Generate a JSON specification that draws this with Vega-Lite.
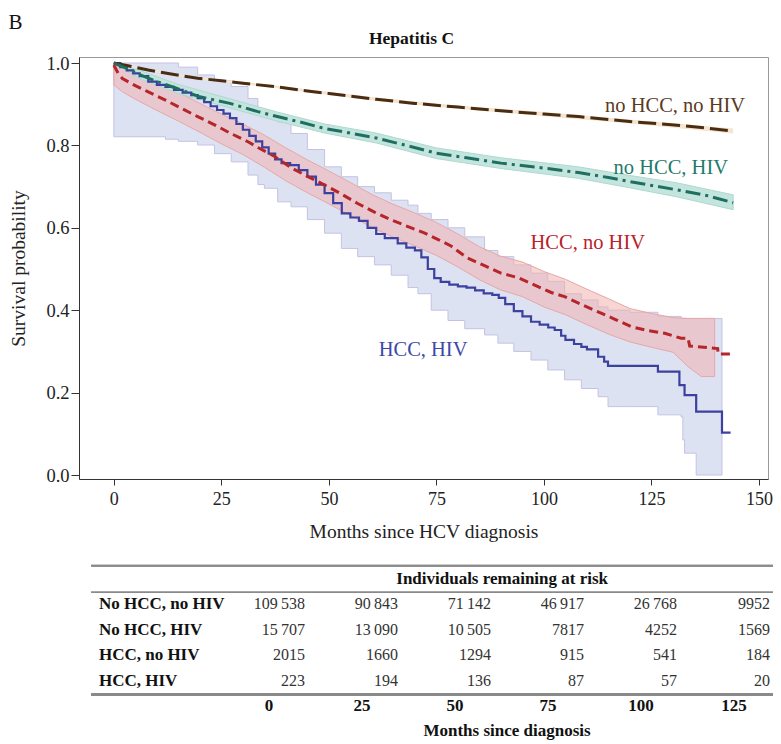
{
  "$schema": "https://vega.github.io/schema/vega-lite/v6.json",
  "padding": {"left": 8, "top": 12, "right": 5, "bottom": 0},
  "config": {
    "font": "Liberation Serif",
    "view": {"stroke": "#9a9a9a", "strokeWidth": 1},
    "title": {"color": "#111", "font": "Liberation Serif"}
  },
  "bounds": "flush",
  "spacing": 81,
  "title": {"text": "B", "anchor": "start", "frame": "bounds", "fontSize": 21, "fontWeight": "normal", "offset": 0, "dy": 4},
  "datasets": {
    "km": [
      {"g": "no HCC, no HIV", "m": 0, "s": 1.0}, {"g": "no HCC, no HIV", "m": 3, "s": 0.994}, {"g": "no HCC, no HIV", "m": 8, "s": 0.983}, {"g": "no HCC, no HIV", "m": 14, "s": 0.972}, {"g": "no HCC, no HIV", "m": 19.5, "s": 0.963}, {"g": "no HCC, no HIV", "m": 25, "s": 0.957}, {"g": "no HCC, no HIV", "m": 30, "s": 0.951}, {"g": "no HCC, no HIV", "m": 38, "s": 0.942}, {"g": "no HCC, no HIV", "m": 45, "s": 0.932}, {"g": "no HCC, no HIV", "m": 50, "s": 0.926}, {"g": "no HCC, no HIV", "m": 61, "s": 0.912}, {"g": "no HCC, no HIV", "m": 70, "s": 0.902}, {"g": "no HCC, no HIV", "m": 80, "s": 0.893}, {"g": "no HCC, no HIV", "m": 90, "s": 0.884}, {"g": "no HCC, no HIV", "m": 100, "s": 0.876}, {"g": "no HCC, no HIV", "m": 108, "s": 0.87}, {"g": "no HCC, no HIV", "m": 120, "s": 0.858}, {"g": "no HCC, no HIV", "m": 131, "s": 0.849}, {"g": "no HCC, no HIV", "m": 138, "s": 0.842}, {"g": "no HCC, no HIV", "m": 144, "s": 0.835},
      {"g": "no HCC, HIV", "m": 0, "s": 1.0}, {"g": "no HCC, HIV", "m": 3, "s": 0.987}, {"g": "no HCC, HIV", "m": 6, "s": 0.972}, {"g": "no HCC, HIV", "m": 10, "s": 0.955}, {"g": "no HCC, HIV", "m": 15, "s": 0.937}, {"g": "no HCC, HIV", "m": 20, "s": 0.918}, {"g": "no HCC, HIV", "m": 27, "s": 0.902}, {"g": "no HCC, HIV", "m": 33.5, "s": 0.882}, {"g": "no HCC, HIV", "m": 38, "s": 0.87}, {"g": "no HCC, HIV", "m": 44, "s": 0.855}, {"g": "no HCC, HIV", "m": 49, "s": 0.841}, {"g": "no HCC, HIV", "m": 55, "s": 0.83}, {"g": "no HCC, HIV", "m": 61, "s": 0.818}, {"g": "no HCC, HIV", "m": 68, "s": 0.8}, {"g": "no HCC, HIV", "m": 75, "s": 0.781}, {"g": "no HCC, HIV", "m": 82, "s": 0.77}, {"g": "no HCC, HIV", "m": 90, "s": 0.757}, {"g": "no HCC, HIV", "m": 100, "s": 0.745}, {"g": "no HCC, HIV", "m": 108, "s": 0.734}, {"g": "no HCC, HIV", "m": 115, "s": 0.722}, {"g": "no HCC, HIV", "m": 120, "s": 0.712}, {"g": "no HCC, HIV", "m": 131, "s": 0.692}, {"g": "no HCC, HIV", "m": 138, "s": 0.678}, {"g": "no HCC, HIV", "m": 144, "s": 0.661},
      {"g": "HCC, no HIV", "m": 0, "s": 0.995}, {"g": "HCC, no HIV", "m": 1, "s": 0.975}, {"g": "HCC, no HIV", "m": 2, "s": 0.962}, {"g": "HCC, no HIV", "m": 5, "s": 0.945}, {"g": "HCC, no HIV", "m": 8, "s": 0.93}, {"g": "HCC, no HIV", "m": 12, "s": 0.91}, {"g": "HCC, no HIV", "m": 15.7, "s": 0.89}, {"g": "HCC, no HIV", "m": 19.5, "s": 0.87}, {"g": "HCC, no HIV", "m": 23.4, "s": 0.85}, {"g": "HCC, no HIV", "m": 27, "s": 0.83}, {"g": "HCC, no HIV", "m": 31.2, "s": 0.809}, {"g": "HCC, no HIV", "m": 33.5, "s": 0.795}, {"g": "HCC, no HIV", "m": 37.4, "s": 0.773}, {"g": "HCC, no HIV", "m": 41.2, "s": 0.746}, {"g": "HCC, no HIV", "m": 45, "s": 0.725}, {"g": "HCC, no HIV", "m": 49, "s": 0.704}, {"g": "HCC, no HIV", "m": 52.9, "s": 0.682}, {"g": "HCC, no HIV", "m": 56.7, "s": 0.659}, {"g": "HCC, no HIV", "m": 60.6, "s": 0.638}, {"g": "HCC, no HIV", "m": 64.5, "s": 0.619}, {"g": "HCC, no HIV", "m": 68.4, "s": 0.603}, {"g": "HCC, no HIV", "m": 72.3, "s": 0.587}, {"g": "HCC, no HIV", "m": 75.3, "s": 0.572}, {"g": "HCC, no HIV", "m": 78.4, "s": 0.556}, {"g": "HCC, no HIV", "m": 82, "s": 0.528}, {"g": "HCC, no HIV", "m": 86.2, "s": 0.508}, {"g": "HCC, no HIV", "m": 90, "s": 0.49}, {"g": "HCC, no HIV", "m": 94, "s": 0.479}, {"g": "HCC, no HIV", "m": 97, "s": 0.465}, {"g": "HCC, no HIV", "m": 101.7, "s": 0.443}, {"g": "HCC, no HIV", "m": 104.8, "s": 0.433}, {"g": "HCC, no HIV", "m": 108.7, "s": 0.414}, {"g": "HCC, no HIV", "m": 112.6, "s": 0.396}, {"g": "HCC, no HIV", "m": 116.5, "s": 0.378}, {"g": "HCC, no HIV", "m": 120.3, "s": 0.36}, {"g": "HCC, no HIV", "m": 124, "s": 0.351}, {"g": "HCC, no HIV", "m": 128.1, "s": 0.344}, {"g": "HCC, no HIV", "m": 131.9, "s": 0.332}, {"g": "HCC, no HIV", "m": 133.5, "s": 0.332}, {"g": "HCC, no HIV", "m": 133.9, "s": 0.313}, {"g": "HCC, no HIV", "m": 140.4, "s": 0.307}, {"g": "HCC, no HIV", "m": 140.5, "s": 0.294}, {"g": "HCC, no HIV", "m": 143.6, "s": 0.294}
    ],
    "kmstep": [
      {"g": "HCC, HIV", "m": 0, "s": 1.0}, {"g": "HCC, HIV", "m": 1.5, "s": 0.99}, {"g": "HCC, HIV", "m": 3, "s": 0.982}, {"g": "HCC, HIV", "m": 4.5, "s": 0.975}, {"g": "HCC, HIV", "m": 6, "s": 0.968}, {"g": "HCC, HIV", "m": 8, "s": 0.955}, {"g": "HCC, HIV", "m": 10, "s": 0.947}, {"g": "HCC, HIV", "m": 12, "s": 0.942}, {"g": "HCC, HIV", "m": 14, "s": 0.935}, {"g": "HCC, HIV", "m": 16, "s": 0.928}, {"g": "HCC, HIV", "m": 18, "s": 0.922}, {"g": "HCC, HIV", "m": 19.5, "s": 0.915}, {"g": "HCC, HIV", "m": 21, "s": 0.905}, {"g": "HCC, HIV", "m": 22.5, "s": 0.895}, {"g": "HCC, HIV", "m": 24, "s": 0.886}, {"g": "HCC, HIV", "m": 25.5, "s": 0.877}, {"g": "HCC, HIV", "m": 27, "s": 0.866}, {"g": "HCC, HIV", "m": 28.5, "s": 0.852}, {"g": "HCC, HIV", "m": 30, "s": 0.838}, {"g": "HCC, HIV", "m": 31.5, "s": 0.823}, {"g": "HCC, HIV", "m": 33, "s": 0.81}, {"g": "HCC, HIV", "m": 34.5, "s": 0.795}, {"g": "HCC, HIV", "m": 36, "s": 0.78}, {"g": "HCC, HIV", "m": 37.5, "s": 0.766}, {"g": "HCC, HIV", "m": 39, "s": 0.757}, {"g": "HCC, HIV", "m": 41, "s": 0.752}, {"g": "HCC, HIV", "m": 43, "s": 0.74}, {"g": "HCC, HIV", "m": 45, "s": 0.724}, {"g": "HCC, HIV", "m": 47, "s": 0.705}, {"g": "HCC, HIV", "m": 49, "s": 0.684}, {"g": "HCC, HIV", "m": 51, "s": 0.66}, {"g": "HCC, HIV", "m": 53, "s": 0.635}, {"g": "HCC, HIV", "m": 55, "s": 0.625}, {"g": "HCC, HIV", "m": 57, "s": 0.617}, {"g": "HCC, HIV", "m": 59, "s": 0.6}, {"g": "HCC, HIV", "m": 61, "s": 0.585}, {"g": "HCC, HIV", "m": 63, "s": 0.575}, {"g": "HCC, HIV", "m": 66, "s": 0.562}, {"g": "HCC, HIV", "m": 68, "s": 0.552}, {"g": "HCC, HIV", "m": 70, "s": 0.545}, {"g": "HCC, HIV", "m": 71.5, "s": 0.528}, {"g": "HCC, HIV", "m": 73, "s": 0.5}, {"g": "HCC, HIV", "m": 74.5, "s": 0.478}, {"g": "HCC, HIV", "m": 76, "s": 0.469}, {"g": "HCC, HIV", "m": 78, "s": 0.462}, {"g": "HCC, HIV", "m": 80, "s": 0.458}, {"g": "HCC, HIV", "m": 82, "s": 0.455}, {"g": "HCC, HIV", "m": 84, "s": 0.448}, {"g": "HCC, HIV", "m": 86, "s": 0.441}, {"g": "HCC, HIV", "m": 88, "s": 0.437}, {"g": "HCC, HIV", "m": 89.5, "s": 0.43}, {"g": "HCC, HIV", "m": 91, "s": 0.415}, {"g": "HCC, HIV", "m": 93, "s": 0.398}, {"g": "HCC, HIV", "m": 95, "s": 0.385}, {"g": "HCC, HIV", "m": 97, "s": 0.372}, {"g": "HCC, HIV", "m": 99, "s": 0.365}, {"g": "HCC, HIV", "m": 101, "s": 0.358}, {"g": "HCC, HIV", "m": 102.5, "s": 0.352}, {"g": "HCC, HIV", "m": 104, "s": 0.338}, {"g": "HCC, HIV", "m": 105, "s": 0.328}, {"g": "HCC, HIV", "m": 107, "s": 0.318}, {"g": "HCC, HIV", "m": 108.7, "s": 0.311}, {"g": "HCC, HIV", "m": 110, "s": 0.305}, {"g": "HCC, HIV", "m": 112.6, "s": 0.287}, {"g": "HCC, HIV", "m": 114, "s": 0.275}, {"g": "HCC, HIV", "m": 114.9, "s": 0.265}, {"g": "HCC, HIV", "m": 126.5, "s": 0.251}, {"g": "HCC, HIV", "m": 131.5, "s": 0.218}, {"g": "HCC, HIV", "m": 132.7, "s": 0.194}, {"g": "HCC, HIV", "m": 135.4, "s": 0.154}, {"g": "HCC, HIV", "m": 141.4, "s": 0.103}, {"g": "HCC, HIV", "m": 143.4, "s": 0.103}
    ],
    "ci": [
      {"g": "no HCC, no HIV", "m": 0, "lo": 0.999, "hi": 1.0}, {"g": "no HCC, no HIV", "m": 8, "lo": 0.98, "hi": 0.986}, {"g": "no HCC, no HIV", "m": 19.5, "lo": 0.96, "hi": 0.966}, {"g": "no HCC, no HIV", "m": 38, "lo": 0.939, "hi": 0.945}, {"g": "no HCC, no HIV", "m": 61, "lo": 0.908, "hi": 0.916}, {"g": "no HCC, no HIV", "m": 80, "lo": 0.889, "hi": 0.897}, {"g": "no HCC, no HIV", "m": 100, "lo": 0.871, "hi": 0.881}, {"g": "no HCC, no HIV", "m": 120, "lo": 0.853, "hi": 0.863}, {"g": "no HCC, no HIV", "m": 144, "lo": 0.829, "hi": 0.841},
      {"g": "no HCC, HIV", "m": 0, "lo": 1.0, "hi": 1.0}, {"g": "no HCC, HIV", "m": 6, "lo": 0.962, "hi": 0.982}, {"g": "no HCC, HIV", "m": 15, "lo": 0.926, "hi": 0.948}, {"g": "no HCC, HIV", "m": 27, "lo": 0.891, "hi": 0.913}, {"g": "no HCC, HIV", "m": 38, "lo": 0.859, "hi": 0.881}, {"g": "no HCC, HIV", "m": 49, "lo": 0.83, "hi": 0.852}, {"g": "no HCC, HIV", "m": 61, "lo": 0.806, "hi": 0.83}, {"g": "no HCC, HIV", "m": 75, "lo": 0.768, "hi": 0.794}, {"g": "no HCC, HIV", "m": 90, "lo": 0.744, "hi": 0.77}, {"g": "no HCC, HIV", "m": 108, "lo": 0.72, "hi": 0.748}, {"g": "no HCC, HIV", "m": 120, "lo": 0.697, "hi": 0.727}, {"g": "no HCC, HIV", "m": 131, "lo": 0.675, "hi": 0.709}, {"g": "no HCC, HIV", "m": 144, "lo": 0.644, "hi": 0.68},
      {"g": "HCC, no HIV", "m": 0, "lo": 0.947, "hi": 1.0}, {"g": "HCC, no HIV", "m": 2, "lo": 0.93, "hi": 0.99}, {"g": "HCC, no HIV", "m": 5, "lo": 0.912, "hi": 0.975}, {"g": "HCC, no HIV", "m": 10, "lo": 0.885, "hi": 0.955}, {"g": "HCC, no HIV", "m": 15, "lo": 0.859, "hi": 0.929}, {"g": "HCC, no HIV", "m": 20, "lo": 0.832, "hi": 0.902}, {"g": "HCC, no HIV", "m": 25, "lo": 0.804, "hi": 0.876}, {"g": "HCC, no HIV", "m": 30, "lo": 0.778, "hi": 0.852}, {"g": "HCC, no HIV", "m": 35, "lo": 0.747, "hi": 0.825}, {"g": "HCC, no HIV", "m": 40, "lo": 0.714, "hi": 0.794}, {"g": "HCC, no HIV", "m": 45, "lo": 0.685, "hi": 0.765}, {"g": "HCC, no HIV", "m": 50, "lo": 0.658, "hi": 0.738}, {"g": "HCC, no HIV", "m": 55, "lo": 0.63, "hi": 0.71}, {"g": "HCC, no HIV", "m": 60, "lo": 0.601, "hi": 0.681}, {"g": "HCC, no HIV", "m": 65, "lo": 0.577, "hi": 0.657}, {"g": "HCC, no HIV", "m": 70, "lo": 0.556, "hi": 0.636}, {"g": "HCC, no HIV", "m": 75, "lo": 0.533, "hi": 0.613}, {"g": "HCC, no HIV", "m": 80, "lo": 0.505, "hi": 0.585}, {"g": "HCC, no HIV", "m": 85, "lo": 0.474, "hi": 0.554}, {"g": "HCC, no HIV", "m": 90, "lo": 0.449, "hi": 0.531}, {"g": "HCC, no HIV", "m": 95, "lo": 0.433, "hi": 0.517}, {"g": "HCC, no HIV", "m": 100, "lo": 0.408, "hi": 0.494}, {"g": "HCC, no HIV", "m": 105, "lo": 0.389, "hi": 0.475}, {"g": "HCC, no HIV", "m": 110, "lo": 0.365, "hi": 0.451}, {"g": "HCC, no HIV", "m": 115, "lo": 0.342, "hi": 0.428}, {"g": "HCC, no HIV", "m": 120, "lo": 0.323, "hi": 0.404}, {"g": "HCC, no HIV", "m": 125, "lo": 0.31, "hi": 0.392}, {"g": "HCC, no HIV", "m": 130, "lo": 0.298, "hi": 0.382}, {"g": "HCC, no HIV", "m": 133.5, "lo": 0.263, "hi": 0.38}, {"g": "HCC, no HIV", "m": 136.6, "lo": 0.239, "hi": 0.38}, {"g": "HCC, no HIV", "m": 139.7, "lo": 0.239, "hi": 0.38}
    ],
    "cistep": [
      {"g": "HCC, HIV", "m": 0, "lo": 0.821, "hi": 1.0}, {"g": "HCC, HIV", "m": 12, "lo": 0.815, "hi": 1.0}, {"g": "HCC, HIV", "m": 15, "lo": 0.81, "hi": 0.99}, {"g": "HCC, HIV", "m": 19.5, "lo": 0.801, "hi": 0.971}, {"g": "HCC, HIV", "m": 23.4, "lo": 0.78, "hi": 0.957}, {"g": "HCC, HIV", "m": 27.3, "lo": 0.76, "hi": 0.943}, {"g": "HCC, HIV", "m": 31.2, "lo": 0.728, "hi": 0.914}, {"g": "HCC, HIV", "m": 33.5, "lo": 0.705, "hi": 0.885}, {"g": "HCC, HIV", "m": 35, "lo": 0.696, "hi": 0.872}, {"g": "HCC, HIV", "m": 38.1, "lo": 0.663, "hi": 0.857}, {"g": "HCC, HIV", "m": 41.2, "lo": 0.651, "hi": 0.829}, {"g": "HCC, HIV", "m": 45, "lo": 0.62, "hi": 0.79}, {"g": "HCC, HIV", "m": 49, "lo": 0.587, "hi": 0.748}, {"g": "HCC, HIV", "m": 52.9, "lo": 0.55, "hi": 0.724}, {"g": "HCC, HIV", "m": 56.7, "lo": 0.53, "hi": 0.7}, {"g": "HCC, HIV", "m": 60.6, "lo": 0.51, "hi": 0.685}, {"g": "HCC, HIV", "m": 64.5, "lo": 0.485, "hi": 0.667}, {"g": "HCC, HIV", "m": 68.4, "lo": 0.455, "hi": 0.655}, {"g": "HCC, HIV", "m": 70.7, "lo": 0.44, "hi": 0.635}, {"g": "HCC, HIV", "m": 73.8, "lo": 0.4, "hi": 0.62}, {"g": "HCC, HIV", "m": 77.7, "lo": 0.375, "hi": 0.6}, {"g": "HCC, HIV", "m": 81.6, "lo": 0.355, "hi": 0.578}, {"g": "HCC, HIV", "m": 86.2, "lo": 0.34, "hi": 0.545}, {"g": "HCC, HIV", "m": 89.3, "lo": 0.32, "hi": 0.53}, {"g": "HCC, HIV", "m": 93, "lo": 0.3, "hi": 0.51}, {"g": "HCC, HIV", "m": 97, "lo": 0.279, "hi": 0.49}, {"g": "HCC, HIV", "m": 100.9, "lo": 0.255, "hi": 0.47}, {"g": "HCC, HIV", "m": 104.8, "lo": 0.231, "hi": 0.44}, {"g": "HCC, HIV", "m": 108.7, "lo": 0.21, "hi": 0.425}, {"g": "HCC, HIV", "m": 112.6, "lo": 0.19, "hi": 0.408}, {"g": "HCC, HIV", "m": 114.9, "lo": 0.166, "hi": 0.4}, {"g": "HCC, HIV", "m": 120, "lo": 0.166, "hi": 0.395}, {"g": "HCC, HIV", "m": 126.5, "lo": 0.146, "hi": 0.385}, {"g": "HCC, HIV", "m": 131.9, "lo": 0.141, "hi": 0.38}, {"g": "HCC, HIV", "m": 132.3, "lo": 0.085, "hi": 0.38}, {"g": "HCC, HIV", "m": 132.7, "lo": 0.053, "hi": 0.38}, {"g": "HCC, HIV", "m": 135.4, "lo": 0.0, "hi": 0.38}, {"g": "HCC, HIV", "m": 141.4, "lo": 0.0, "hi": 0.38}
    ],
    "labels": [
      {"g": "no HCC, no HIV", "m": 130.5, "s": 0.896},
      {"g": "no HCC, HIV", "m": 129.5, "s": 0.745},
      {"g": "HCC, no HIV", "m": 110.2, "s": 0.563},
      {"g": "HCC, HIV", "m": 71.9, "s": 0.303}
    ],
    "risk": [
      {"g": "No HCC, no HIV", "row": 1, "m": 0, "n": "109\u2009538"}, {"g": "No HCC, no HIV", "row": 1, "m": 25, "n": "90\u2009843"}, {"g": "No HCC, no HIV", "row": 1, "m": 50, "n": "71\u2009142"}, {"g": "No HCC, no HIV", "row": 1, "m": 75, "n": "46\u2009917"}, {"g": "No HCC, no HIV", "row": 1, "m": 100, "n": "26\u2009768"}, {"g": "No HCC, no HIV", "row": 1, "m": 125, "n": "9952"},
      {"g": "No HCC, HIV", "row": 2, "m": 0, "n": "15\u2009707"}, {"g": "No HCC, HIV", "row": 2, "m": 25, "n": "13\u2009090"}, {"g": "No HCC, HIV", "row": 2, "m": 50, "n": "10\u2009505"}, {"g": "No HCC, HIV", "row": 2, "m": 75, "n": "7817"}, {"g": "No HCC, HIV", "row": 2, "m": 100, "n": "4252"}, {"g": "No HCC, HIV", "row": 2, "m": 125, "n": "1569"},
      {"g": "HCC, no HIV", "row": 3, "m": 0, "n": "2015"}, {"g": "HCC, no HIV", "row": 3, "m": 25, "n": "1660"}, {"g": "HCC, no HIV", "row": 3, "m": 50, "n": "1294"}, {"g": "HCC, no HIV", "row": 3, "m": 75, "n": "915"}, {"g": "HCC, no HIV", "row": 3, "m": 100, "n": "541"}, {"g": "HCC, no HIV", "row": 3, "m": 125, "n": "184"},
      {"g": "HCC, HIV", "row": 4, "m": 0, "n": "223"}, {"g": "HCC, HIV", "row": 4, "m": 25, "n": "194"}, {"g": "HCC, HIV", "row": 4, "m": 50, "n": "136"}, {"g": "HCC, HIV", "row": 4, "m": 75, "n": "87"}, {"g": "HCC, HIV", "row": 4, "m": 100, "n": "57"}, {"g": "HCC, HIV", "row": 4, "m": 125, "n": "20"}
    ],
    "heads": [
      {"t": "Individuals remaining at risk", "row": 0, "m": 53},
      {"t": "Months since diagnosis", "row": 6, "m": 54.3}
    ]
  },
  "vconcat": [
    {
      "width": 689,
      "height": 422,
      "title": {"text": "Hepatitis C", "fontSize": 17.5, "fontWeight": "bold", "font": "Liberation Serif", "offset": 7, "dx": -12},
      "layer": [
        {
          "data": {"name": "cistep"},
          "mark": {"type": "area", "interpolate": "step-after", "fill": "#dde2f3", "stroke": "#c4c2e2", "strokeWidth": 1},
          "encoding": {
            "x": {"field": "m", "type": "quantitative", "scale": {"domain": [-8.1, 152.1], "nice": false, "zero": false},
              "axis": {"values": [0, 25, 50, 75, 100, 125, 150], "title": "Months since HCV diagnosis", "grid": false, "tickSize": 6, "labelFontSize": 18, "titleFontSize": 19.5, "titleFontWeight": "normal", "labelPadding": 5, "titlePadding": 14, "domainColor": "#333", "tickColor": "#333", "labelColor": "#222", "titleColor": "#222", "labelFlush": false, "labelOverlap": false}},
            "y": {"field": "lo", "type": "quantitative", "scale": {"domain": [-0.0097, 1.0146], "nice": false, "zero": false},
              "axis": {"values": [0, 0.2, 0.4, 0.6, 0.8, 1.0], "format": ".1f", "title": "Survival probability", "grid": false, "tickSize": 8, "labelFontSize": 18.5, "titleFontSize": 19.5, "titleFontWeight": "normal", "labelPadding": 2, "titlePadding": 17, "domainColor": "#333", "tickColor": "#333", "labelColor": "#222", "titleColor": "#222", "labelFlush": false, "labelOverlap": false}},
            "y2": {"field": "hi"}
          }
        },
        {
          "data": {"name": "ci"},
          "transform": [{"filter": "datum.g === 'HCC, no HIV'"}],
          "mark": {"type": "area", "fill": "#f0b3ae", "fillOpacity": 0.55, "stroke": "#e7a7a7", "strokeWidth": 1},
          "encoding": {
            "x": {"field": "m", "type": "quantitative", "scale": {"domain": [-8.1, 152.1], "nice": false, "zero": false}},
            "y": {"field": "lo", "type": "quantitative", "scale": {"domain": [-0.0097, 1.0146], "nice": false, "zero": false}},
            "y2": {"field": "hi"}
          }
        },
        {
          "data": {"name": "ci"},
          "transform": [{"filter": "datum.g === 'no HCC, HIV'"}],
          "mark": {"type": "area", "fill": "#c3e5dd", "stroke": "#addace", "strokeWidth": 1},
          "encoding": {
            "x": {"field": "m", "type": "quantitative", "scale": {"domain": [-8.1, 152.1], "nice": false, "zero": false}},
            "y": {"field": "lo", "type": "quantitative", "scale": {"domain": [-0.0097, 1.0146], "nice": false, "zero": false}},
            "y2": {"field": "hi"}
          }
        },
        {
          "data": {"name": "ci"},
          "transform": [{"filter": "datum.g === 'no HCC, no HIV'"}],
          "mark": {"type": "area", "fill": "#f5e4cf"},
          "encoding": {
            "x": {"field": "m", "type": "quantitative", "scale": {"domain": [-8.1, 152.1], "nice": false, "zero": false}},
            "y": {"field": "lo", "type": "quantitative", "scale": {"domain": [-0.0097, 1.0146], "nice": false, "zero": false}},
            "y2": {"field": "hi"}
          }
        },
        {
          "data": {"name": "kmstep"},
          "mark": {"type": "line", "interpolate": "step-after", "stroke": "#3c409e", "strokeWidth": 2.2},
          "encoding": {
            "x": {"field": "m", "type": "quantitative", "scale": {"domain": [-8.1, 152.1], "nice": false, "zero": false}},
            "y": {"field": "s", "type": "quantitative", "scale": {"domain": [-0.0097, 1.0146], "nice": false, "zero": false}}
          }
        },
        {
          "data": {"name": "km"},
          "mark": {"type": "line", "strokeWidth": 3},
          "encoding": {
            "x": {"field": "m", "type": "quantitative", "scale": {"domain": [-8.1, 152.1], "nice": false, "zero": false}},
            "y": {"field": "s", "type": "quantitative", "scale": {"domain": [-0.0097, 1.0146], "nice": false, "zero": false}},
            "stroke": {"field": "g", "type": "nominal", "legend": null,
              "scale": {"domain": ["HCC, no HIV", "no HCC, HIV", "no HCC, no HIV"], "range": ["#b5252a", "#1f6e62", "#4a2c12"]}},
            "strokeDash": {"field": "g", "type": "nominal", "legend": null,
              "scale": {"domain": ["HCC, no HIV", "no HCC, HIV", "no HCC, no HIV"], "range": [[9, 5], [15, 5, 3, 5], [18, 6]]}}
          }
        },
        {
          "data": {"name": "labels"},
          "mark": {"type": "text", "fontSize": 20.5, "align": "center", "baseline": "middle"},
          "encoding": {
            "x": {"field": "m", "type": "quantitative", "scale": {"domain": [-8.1, 152.1], "nice": false, "zero": false}},
            "y": {"field": "s", "type": "quantitative", "scale": {"domain": [-0.0097, 1.0146], "nice": false, "zero": false}},
            "text": {"field": "g"},
            "color": {"field": "g", "type": "nominal", "legend": null,
              "scale": {"domain": ["no HCC, no HIV", "no HCC, HIV", "HCC, no HIV", "HCC, HIV"], "range": ["#5a3a1e", "#1e7a6c", "#b9222b", "#3d48a8"]}}
          }
        }
      ]
    },
    {
      "width": 689,
      "height": 184,
      "view": {"stroke": null},
      "layer": [
        {
          "data": {"name": "heads"},
          "mark": {"type": "rule", "stroke": "#8a8a8a", "strokeWidth": 2},
          "encoding": {
            "x": {"datum": -57.5, "type": "quantitative", "scale": {"domain": [-60.75, 124.46], "nice": false, "zero": false}, "axis": null},
            "x2": {"datum": 125.8},
            "y": {"datum": -0.52, "type": "quantitative", "scale": {"domain": [-0.75, 6.5], "nice": false, "zero": false, "reverse": true}, "axis": null}
          }
        },
        {
          "data": {"name": "heads"},
          "mark": {"type": "rule", "stroke": "#8a8a8a", "strokeWidth": 1.5},
          "encoding": {
            "x": {"datum": -57.5, "type": "quantitative"},
            "x2": {"datum": 125.8},
            "y": {"datum": 0.52, "type": "quantitative"}
          }
        },
        {
          "data": {"name": "heads"},
          "mark": {"type": "rule", "stroke": "#8a8a8a", "strokeWidth": 3},
          "encoding": {
            "x": {"datum": -57.5, "type": "quantitative"},
            "x2": {"datum": 125.8},
            "y": {"datum": 4.55, "type": "quantitative"}
          }
        },
        {
          "data": {"name": "heads"},
          "mark": {"type": "text", "fontSize": 17, "fontWeight": "bold", "align": "center", "baseline": "middle", "color": "#111"},
          "encoding": {
            "x": {"field": "m", "type": "quantitative"},
            "y": {"field": "row", "type": "quantitative"},
            "text": {"field": "t"}
          }
        },
        {
          "data": {"name": "risk"},
          "transform": [{"filter": "datum.m === 0"}],
          "mark": {"type": "text", "fontSize": 17, "fontWeight": "bold", "align": "left", "baseline": "middle", "color": "#111"},
          "encoding": {
            "x": {"datum": -55.4, "type": "quantitative"},
            "y": {"field": "row", "type": "quantitative"},
            "text": {"field": "g"}
          }
        },
        {
          "data": {"name": "risk"},
          "mark": {"type": "text", "fontSize": 16, "align": "right", "baseline": "middle", "color": "#333"},
          "encoding": {
            "x": {"field": "m", "type": "quantitative"},
            "y": {"field": "row", "type": "quantitative"},
            "text": {"field": "n"}
          }
        },
        {
          "data": {"name": "risk"},
          "transform": [{"filter": "datum.row === 1"}],
          "mark": {"type": "text", "fontSize": 17, "fontWeight": "bold", "align": "center", "baseline": "middle", "color": "#111", "dx": -36},
          "encoding": {
            "x": {"field": "m", "type": "quantitative"},
            "y": {"datum": 5, "type": "quantitative"},
            "text": {"field": "m", "type": "quantitative", "format": "d"}
          }
        }
      ]
    }
  ]
}
